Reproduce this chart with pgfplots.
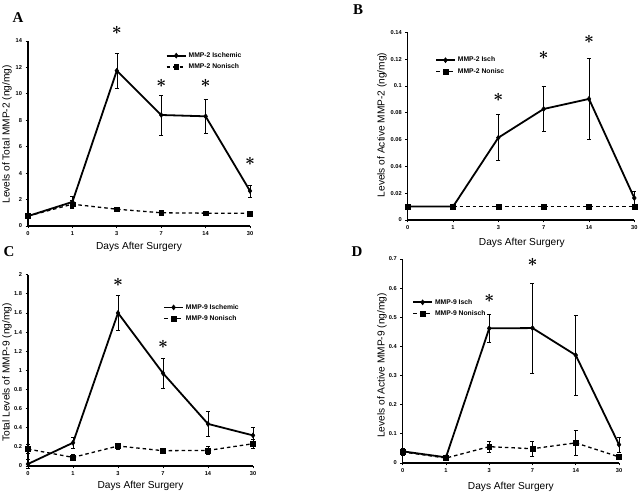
\documentclass[border=0pt]{standalone}
\usepackage{pgfplots}
\pgfplotsset{compat=1.18}
\usepackage{fontspec}
\setmainfont{Liberation Sans}
\newfontfamily\serifb{Liberation Serif}
\tikzset{astk/.style={font=\fontsize{16}{16}\selectfont\boldmath, inner sep=0pt}}
\pgfplotsset{
 panel/.style={
  scale only axis, axis lines=left, axis line style={-, line width=1.3bp},
  xmin=0,xmax=5,ymin=0, xtick={0,...,5}, xticklabels={0,1,3,7,14,30},
  tick align=outside, major tick length=2.5bp, tick style={black, line width=0.8bp},
  ticklabel style={font=\fontsize{5.7}{6}\selectfont\bfseries},
  /pgf/number format/assume math mode=true, /pgf/number format/fixed, /pgf/number format/precision=2,
  label style={font=\fontsize{10.2}{11}\selectfont},
  xlabel={Days After Surgery},
  clip=false,
  legend style={draw=none, fill=none, font=\fontsize{6.8}{7.5}\selectfont\bfseries, anchor=north west, legend cell align=left, inner sep=0pt, row sep=1bp},
  legend image code/.code={\draw[mark repeat=2,mark phase=2,##1] plot coordinates {(0bp,0bp) (9.5bp,0bp) (19bp,0bp)};},
 },
 isch/.style={black, line width=1.8bp, mark=diamond*, mark size=2.6bp, mark options={solid, line width=0.4bp},
   error bars/.cd, y dir=both, y explicit, error bar style={line width=0.6bp, solid}, error mark options={rotate=90, mark size=2bp, line width=0.6bp, solid}},
 non/.style={black, line width=1.3bp, dash pattern=on 3.5bp off 3bp, mark=square*, mark size=2.4bp, mark options={solid, line width=0.4bp},
   error bars/.cd, y dir=both, y explicit, error bar style={line width=0.6bp, solid}, error mark options={rotate=90, mark size=2bp, line width=0.6bp, solid}},
}
\begin{document}
\begin{tikzpicture}[x=1bp,y=1bp]
\useasboundingbox (0,0) rectangle (640,496);
% Panel letters
\node[font=\serifb\bfseries\fontsize{15}{15}\selectfont] at (18,478) {A};
\node[font=\serifb\bfseries\fontsize{15}{15}\selectfont] at (358,486) {B};
\node[font=\serifb\bfseries\fontsize{15}{15}\selectfont] at (9,244.5) {C};
\node[font=\serifb\bfseries\fontsize{15}{15}\selectfont] at (357,244.5) {D};

% ---------- A ----------
\begin{axis}[panel, at={(28bp,270bp)}, anchor=south west, width=222bp, height=185bp,
  ymax=14, ytick={0,2,...,14},
  ylabel={Levels of Total MMP-2 (ng/mg)},
  ylabel style={at={(axis description cs:-0.0946,0.495)}, anchor=center},
  xlabel style={at={(axis description cs:0.5,-0.1135)}, anchor=center},
  legend style={at={(axis description cs:0.62,0.95)}}]
\addplot[isch] coordinates {(0,0.75)+-(0,0.1) (1,1.82)+-(0,0.4) (2,11.75)+-(0,1.35) (3,8.4)+-(0,1.5) (4,8.3)+-(0,1.3) (5,2.65)+-(0,0.45)};
\addlegendentry{MMP-2 Ischemic}
\addplot[non] coordinates {(0,0.75)+-(0,0.1) (1,1.65)+-(0,0.3) (2,1.27)+-(0,0.1) (3,1.0)+-(0,0.05) (4,0.97)+-(0,0.05) (5,0.96)+-(0,0.05)};
\addlegendentry{MMP-2 Nonisch}
\node[astk] at (axis cs:2,14.83) {$\ast$};
\node[astk] at (axis cs:3,10.82) {$\ast$};
\node[astk] at (axis cs:4,10.82) {$\ast$};
\node[astk] at (axis cs:5,4.92) {$\ast$};
\end{axis}

% ---------- B ----------
\begin{axis}[panel, at={(407.7bp,276bp)}, anchor=south west, width=226.6bp, height=187.7bp,
  ymax=0.14, ytick={0,0.02,...,0.141},
  ylabel={Levels of Active MMP-2 (ng/mg)},
  ylabel style={at={(axis description cs:-0.113,0.506)}, anchor=center},
  xlabel style={at={(axis description cs:0.504,-0.1225)}, anchor=center},
  legend style={at={(axis description cs:0.12,0.88)}}]
\addplot[isch] coordinates {(0,0.01)+-(0,0.0005) (1,0.01)+-(0,0.0005) (2,0.0614)+-(0,0.0172) (3,0.0828)+-(0,0.017) (4,0.0903)+-(0,0.0301) (5,0.0164)+-(0,0.0047)};
\addlegendentry{MMP-2 Isch}
\addplot[non] coordinates {(0,0.01)+-(0,0.0003) (1,0.01)+-(0,0.0003) (2,0.01)+-(0,0.0003) (3,0.01)+-(0,0.0003) (4,0.01)+-(0,0.0003) (5,0.01)+-(0,0.0003)};
\addlegendentry{MMP-2 Nonisc}
\node[astk] at (axis cs:2,0.0915) {$\ast$};
\node[astk] at (axis cs:3,0.123) {$\ast$};
\node[astk] at (axis cs:4,0.135) {$\ast$};
\end{axis}

% ---------- C ----------
\begin{axis}[panel, at={(28bp,30bp)}, anchor=south west, width=225bp, height=191.3bp,
  ymax=2, ytick={0,0.2,...,2.01},
  ylabel={Total Levels of MMP-9 (ng/mg)},
  ylabel style={at={(axis description cs:-0.093,0.489)}, anchor=center},
  xlabel style={at={(axis description cs:0.5,-0.1045)}, anchor=center},
  legend style={at={(axis description cs:0.6,0.857)}}]
\addplot[isch] coordinates {(0,0.021)+-(0,0.045) (1,0.243)+-(0,0.053) (2,1.6)+-(0,0.18) (3,0.97)+-(0,0.16) (4,0.44)+-(0,0.13) (5,0.32)+-(0,0.08)};
\addlegendentry{MMP-9 Ischemic}
\addplot[non] coordinates {(0,0.177)+-(0,0.045) (1,0.09)+-(0,0.03) (2,0.209)+-(0,0.03) (3,0.16)+-(0,0.01) (4,0.163)+-(0,0.04) (5,0.233)+-(0,0.05)};
\addlegendentry{MMP-9 Nonisch}
\node[astk] at (axis cs:2,1.92) {$\ast$};
\node[astk] at (axis cs:3,1.27) {$\ast$};
\end{axis}

% ---------- D ----------
\begin{axis}[panel, at={(402.7bp,33bp)}, anchor=south west, width=216.3bp, height=204bp,
  ymax=0.7, ytick={0,0.1,...,0.71},
  ylabel={Levels of Active MMP-9 (ng/mg)},
  ylabel style={at={(axis description cs:-0.0957,0.478)}, anchor=center},
  xlabel style={at={(axis description cs:0.5,-0.1176)}, anchor=center},
  legend style={at={(axis description cs:0.043,0.814)}}]
\addplot[isch] coordinates {(0,0.04)+-(0,0.01) (1,0.0195)+-(0,0.005) (2,0.462)+-(0,0.048) (3,0.463)+-(0,0.154) (4,0.37)+-(0,0.138) (5,0.063)+-(0,0.026)};
\addlegendentry{MMP-9 Isch}
\addplot[non] coordinates {(0,0.038)+-(0,0.01) (1,0.017)+-(0,0.005) (2,0.056)+-(0,0.019) (3,0.049)+-(0,0.025) (4,0.069)+-(0,0.042) (5,0.021)+-(0,0.008)};
\addlegendentry{MMP-9 Nonisch}
\node[astk] at (axis cs:2,0.563) {$\ast$};
\node[astk] at (axis cs:3,0.687) {$\ast$};
\end{axis}
\end{tikzpicture}
\end{document}
